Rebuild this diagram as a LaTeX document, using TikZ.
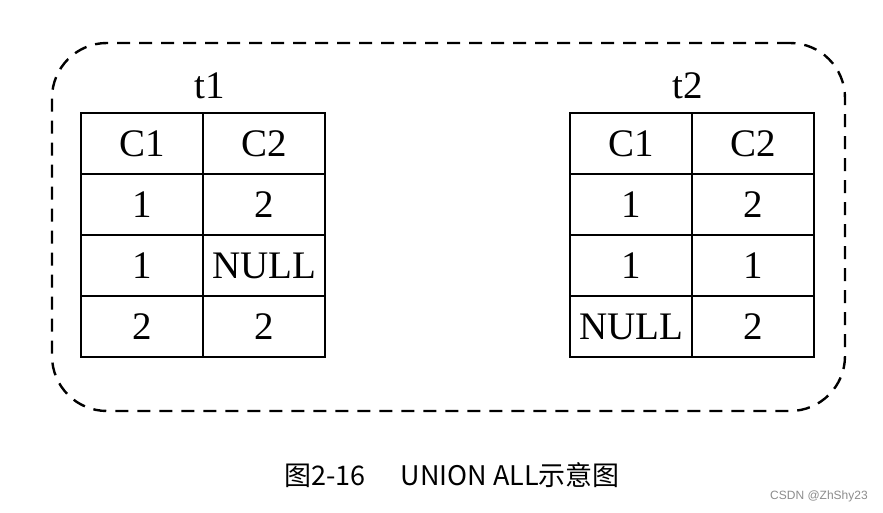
\documentclass[tikz,border=0pt]{standalone}
\usepackage{fontspec}
\setmainfont{Liberation Serif}
\newfontfamily\cjk{Noto Sans CJK SC}
\newfontfamily\wmfont{Liberation Sans}
\usetikzlibrary{positioning}

\begin{document}
\begin{tikzpicture}[
  x=1pt, y=1pt,
  cell/.style={
    draw,
    line width=1.5pt,
    minimum width=122pt,
    minimum height=61pt,
    inner sep=0pt,
    outer sep=0pt,
    font=\fontsize{39}{41}\selectfont
  },
  frame/.style={
    draw,
    line width=2.4pt,
    dash pattern=on 13pt off 9pt,
    rounded corners=55pt,
    minimum width=793pt,
    minimum height=368pt
  },
  tname/.style={font=\fontsize{39}{41}\selectfont}
]
\useasboundingbox (0,0) rectangle (883,513);

\node[frame] (union) at (448.5,286) {};

% table t1
\node[tname] (t1name) at (210,427) {t1};
\node[cell] (t1a1) at (142,369.5) {C1};
\node[cell, right=0pt of t1a1] (t1b1) {C2};
\node[cell, below=0pt of t1a1] (t1a2) {1};
\node[cell, right=0pt of t1a2] (t1b2) {2};
\node[cell, below=0pt of t1a2] (t1a3) {1};
\node[cell, right=0pt of t1a3] (t1b3) {NULL};
\node[cell, below=0pt of t1a3] (t1a4) {2};
\node[cell, right=0pt of t1a4] (t1b4) {2};

% table t2
\node[tname] (t2name) at (688,427) {t2};
\node[cell] (t2a1) at (631,369.5) {C1};
\node[cell, right=0pt of t2a1] (t2b1) {C2};
\node[cell, below=0pt of t2a1] (t2a2) {1};
\node[cell, right=0pt of t2a2] (t2b2) {2};
\node[cell, below=0pt of t2a2] (t2a3) {1};
\node[cell, right=0pt of t2a3] (t2b3) {1};
\node[cell, below=0pt of t2a3] (t2a4) {NULL};
\node[cell, right=0pt of t2a4] (t2b4) {2};

% caption and mark
\node[font=\cjk\fontsize{27}{29}\selectfont] (caption) at (452,38) {图2-16\hspace{1.3em}UNION ALL示意图};
\node[font=\wmfont\fontsize{12}{13}\selectfont, text=black!45] (mark) at (819,17) {CSDN @ZhShy23};

\end{tikzpicture}
\end{document}
